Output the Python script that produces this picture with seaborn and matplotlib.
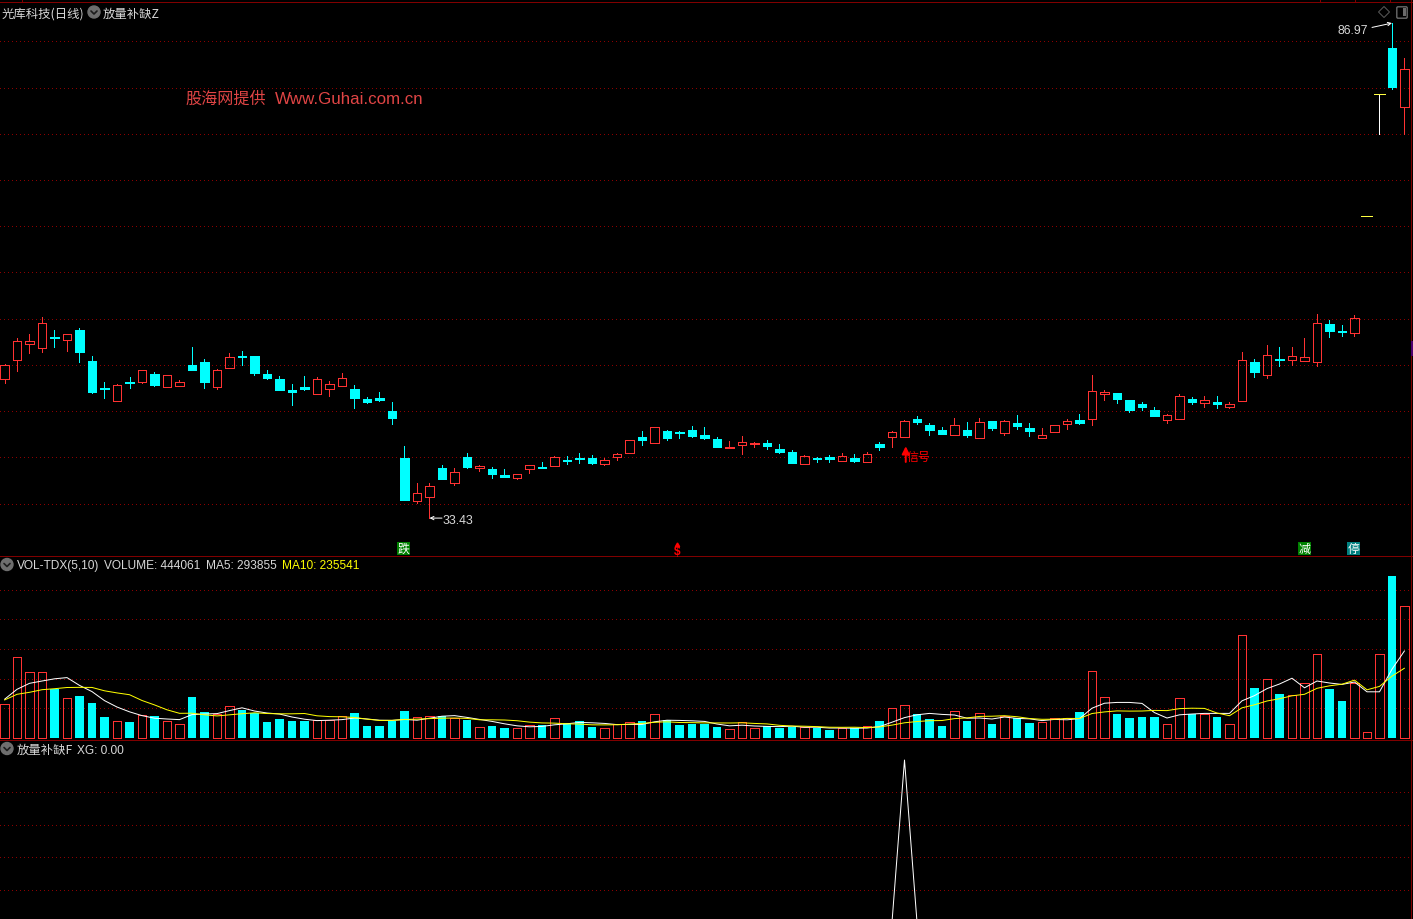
import numpy as np
import matplotlib
matplotlib.use("Agg")
import matplotlib.pyplot as plt
from matplotlib.patches import Rectangle, RegularPolygon, FancyBboxPatch
import seaborn as sns

# prices
opens = [48.47, 50.52, 52.25, 51.82, 53.01, 52.68, 53.76, 50.41, 47.49, 46.09,
         48.14, 48.14, 49.01, 47.60, 47.71, 49.98, 50.31, 47.60, 49.66, 50.95,
         50.95, 49.01, 48.47, 47.28, 47.60, 46.84, 47.38, 47.71, 47.38, 46.30,
         46.41, 45.00, 39.92, 35.27, 35.70, 38.84, 37.22, 40.03, 38.84, 38.73,
         38.08, 37.76, 38.73, 38.95, 39.06, 39.70, 39.92, 39.92, 39.27, 40.03,
         40.46, 42.19, 41.54, 42.84, 42.73, 42.95, 42.41, 41.98, 41.00, 41.33,
         41.44, 41.54, 40.89, 40.57, 39.27, 39.92, 40.03, 39.60, 39.92, 39.49,
         41.44, 42.19, 42.19, 44.14, 43.49, 42.95, 42.41, 42.95, 42.09, 43.92,
         42.63, 43.71, 43.17, 42.09, 42.73, 43.60, 44.03, 44.14, 46.84, 46.95,
         46.19, 45.76, 45.11, 44.03, 44.14, 46.30, 45.87, 45.98, 45.44, 46.09,
         50.31, 48.90, 50.63, 50.52, 50.41, 50.31, 54.41, 53.71, 53.44, 66.10,
         79.29, 84.27, 77.89]
highs = [50.09, 52.90, 53.33, 55.17, 53.76, 53.33, 53.98, 50.95, 48.14, 47.92,
         48.68, 49.44, 49.22, 48.90, 48.36, 51.93, 50.63, 49.55, 51.28, 51.49,
         50.95, 49.44, 48.79, 47.93, 48.79, 48.68, 48.25, 49.12, 47.82, 46.52,
         47.06, 45.98, 41.22, 37.22, 37.22, 39.17, 38.84, 40.46, 39.17, 38.95,
         38.73, 38.19, 39.17, 39.49, 40.14, 40.14, 40.46, 40.25, 39.92, 40.46,
         41.87, 42.84, 43.28, 42.95, 42.84, 43.39, 43.28, 42.19, 41.76, 42.30,
         41.65, 41.87, 41.44, 40.78, 40.25, 40.03, 40.25, 40.46, 40.35, 40.57,
         41.65, 42.84, 44.03, 44.46, 43.71, 43.28, 44.25, 43.82, 44.25, 43.92,
         44.03, 44.57, 43.71, 43.17, 43.49, 44.14, 44.68, 48.90, 47.28, 46.95,
         46.19, 45.98, 45.44, 44.68, 46.84, 46.52, 46.62, 46.62, 45.98, 51.39,
         50.63, 52.14, 51.93, 51.93, 52.90, 55.49, 54.85, 54.31, 55.39, 66.10,
         79.29, 86.97, 83.19]
lows = [48.04, 49.33, 51.28, 51.39, 51.93, 51.49, 50.31, 46.95, 46.41, 46.09,
        47.49, 48.04, 47.71, 47.60, 47.71, 49.44, 47.49, 47.38, 49.66, 49.98,
        48.90, 48.47, 47.28, 45.65, 47.28, 46.84, 46.62, 47.71, 45.33, 45.87,
        46.09, 43.60, 35.38, 35.06, 33.43, 37.65, 37.00, 38.84, 38.52, 37.76,
        37.87, 37.65, 38.30, 38.84, 39.06, 39.27, 39.38, 39.27, 39.17, 39.70,
        40.46, 41.33, 41.54, 41.87, 42.09, 42.19, 41.98, 41.11, 41.00, 40.35,
        41.11, 40.89, 40.46, 39.38, 39.27, 39.49, 39.49, 39.60, 39.49, 39.49,
        40.78, 41.11, 42.19, 43.60, 42.41, 42.52, 42.41, 42.19, 42.09, 42.95,
        42.41, 43.06, 42.30, 42.09, 42.73, 43.06, 43.60, 43.49, 46.19, 45.87,
        44.90, 45.11, 44.46, 43.71, 44.14, 45.76, 45.44, 45.33, 45.33, 46.09,
        48.68, 48.57, 49.87, 49.98, 50.41, 49.87, 53.01, 53.12, 53.12, 66.10,
        74.97, 79.84, 74.97]
closes = [49.98, 52.57, 52.57, 54.52, 52.90, 53.33, 51.39, 47.06, 47.38, 47.82,
          48.08, 49.44, 47.82, 48.90, 48.14, 49.44, 48.14, 49.44, 50.85, 50.90,
          49.12, 48.57, 47.28, 47.06, 47.38, 48.47, 47.93, 48.57, 46.41, 45.98,
          46.19, 44.25, 35.38, 36.14, 36.92, 37.65, 38.41, 38.95, 39.06, 38.19,
          37.87, 38.19, 39.17, 38.84, 40.03, 39.65, 39.81, 39.38, 39.70, 40.35,
          41.87, 41.87, 43.28, 42.09, 42.68, 42.30, 42.09, 41.11, 41.11, 41.65,
          41.54, 41.22, 40.57, 39.38, 40.14, 39.87, 39.81, 40.14, 39.60, 40.35,
          41.11, 42.73, 43.92, 43.82, 42.95, 42.52, 43.49, 42.41, 43.82, 43.17,
          43.92, 43.39, 42.84, 42.41, 43.49, 43.92, 43.71, 47.17, 47.06, 46.30,
          45.11, 45.44, 44.46, 44.57, 46.62, 45.98, 46.19, 45.76, 45.76, 50.52,
          49.22, 51.06, 50.52, 50.95, 50.85, 54.52, 53.66, 53.60, 55.06, 66.10,
          79.29, 80.05, 82.00]

# volume in thousands of lots, plus the two moving averages as drawn
volume_k = [115, 273, 223, 223, 165, 135, 142, 118, 71, 57,
            54, 78, 74, 57, 47, 138, 88, 81, 108, 94,
            84, 54, 64, 57, 57, 61, 61, 74, 84, 40,
            40, 57, 91, 71, 74, 74, 67, 61, 37, 40,
            34, 34, 44, 44, 67, 51, 57, 37, 34, 47,
            54, 57, 81, 61, 44, 47, 47, 37, 30, 54,
            34, 40, 34, 37, 37, 34, 27, 34, 34, 40,
            57, 101, 111, 81, 64, 40, 91, 57, 84, 47,
            74, 67, 51, 54, 67, 67, 88, 226, 138, 81,
            67, 71, 71, 47, 135, 81, 81, 71, 47, 347,
            169, 199, 148, 145, 185, 283, 165, 125, 185, 20,
            283, 546, 444.061]
ma5_k = [130.5, 164.2, 184.4, 192.2, 199.6, 203.7, 177.4, 156.5, 126.1, 104.5,
         88.3, 75.5, 66.8, 64.1, 62.0, 78.9, 80.9, 82.3, 92.4, 101.8,
         91.0, 84.3, 80.9, 70.8, 63.4, 58.7, 60.0, 62.0, 67.4, 64.1,
         60.0, 59.3, 62.7, 60.0, 66.8, 73.5, 75.5, 69.5, 62.7, 56.0,
         47.9, 41.1, 37.8, 39.1, 44.5, 47.9, 52.6, 51.3, 49.2, 45.2,
         45.9, 45.9, 54.6, 60.0, 59.3, 58.0, 56.0, 47.2, 41.1, 43.2,
         40.5, 39.1, 38.4, 39.8, 36.4, 36.4, 33.7, 33.7, 33.0, 33.7,
         38.4, 53.3, 68.8, 78.2, 83.0, 79.6, 77.6, 66.8, 67.4, 64.1,
         70.8, 66.1, 64.7, 58.7, 62.7, 61.4, 65.4, 100.5, 117.3, 120.0,
         120.0, 116.7, 85.6, 67.4, 78.2, 80.9, 83.0, 83.0, 83.0, 125.4,
         143.0, 166.6, 182.1, 201.6, 169.3, 192.2, 185.5, 180.7, 188.8, 155.8,
         155.8, 232.0, 293.855]
ma10_k = [128.1, 147.4, 154.1, 162.9, 166.2, 170.3, 170.8, 170.5, 159.2, 152.1,
          146.0, 126.5, 111.6, 95.1, 83.3, 83.6, 78.2, 74.5, 78.2, 81.9,
          85.0, 82.6, 81.6, 81.6, 82.6, 74.9, 72.2, 71.5, 69.1, 63.7,
          59.3, 59.7, 62.4, 63.7, 65.4, 66.8, 67.4, 66.1, 61.4, 61.4,
          60.7, 58.3, 53.6, 50.9, 50.2, 47.9, 46.9, 44.5, 44.2, 44.8,
          46.9, 49.2, 52.9, 54.6, 52.3, 51.9, 50.9, 50.9, 50.6, 51.3,
          49.2, 47.5, 42.8, 40.5, 39.8, 38.4, 36.4, 36.1, 36.4, 35.1,
          37.4, 43.5, 51.3, 55.6, 58.3, 59.0, 65.4, 67.8, 72.8, 73.5,
          75.2, 71.8, 65.8, 63.1, 63.4, 66.1, 65.8, 82.6, 88.0, 91.4,
          90.7, 91.0, 93.1, 92.4, 99.1, 100.5, 99.8, 84.3, 75.2, 101.8,
          112.0, 124.8, 132.5, 142.3, 147.4, 167.6, 176.0, 181.4, 195.2, 162.5,
          174.0, 208.7, 235.541]

# XG signal: one day at 1, the rest 0
xg = [0.0] * 72 + [1.0] + [0.0] * 40

price_grid = [35, 40, 45, 50, 55, 60, 65, 70, 75, 80, 85]
volume_grid = [100, 200, 300, 400, 500]
xg_grid = [0.2, 0.4, 0.6, 0.8]

W, H = 1413, 920
RED = "#ff3232"
CYAN = "#00ffff"
GRID = "#800000"
DOT = "#8c0000"
PX = 0.72  # one pixel at dpi 100

sns.set_style("dark", {"axes.facecolor": "black", "figure.facecolor": "black"})
plt.rcParams["font.family"] = ["Liberation Sans", "Noto Sans CJK SC", "DejaVu Sans"]
CJK = ["Noto Sans CJK SC", "DejaVu Sans"]

fig = plt.figure(figsize=(W / 100, H / 100), dpi=100, facecolor="black")


def panel(top, bottom):
    ax = fig.add_axes([0, 1 - bottom / H, 1411.5 / W, (bottom - top) / H])
    ax.set_facecolor("black")
    ax.grid(False)
    ax.set_xticks([])
    ax.set_yticks([])
    for side in ["left", "bottom", "top", "right"]:
        ax.spines[side].set_visible(False)
    return ax


def dotted(ax, levels):
    for level in levels:
        ax.axhline(level, color=DOT, lw=PX, ls=(0, (0.9, 3.1)), zorder=0, antialiased=False,
                   dash_capstyle="butt")


def label(x, y, s, color="#d8d8d8", size=8.6, family=None, **kw):
    kw.setdefault("ha", "left")
    kw.setdefault("va", "center")
    fig.text(x / W, 1 - y / H, s, color=color, fontsize=size, family=family, zorder=20, **kw)


def chevron(x, y):
    # little grey round button beside the panel titles
    fig.add_artist(plt.Circle((x, H - y), 6, color="#6e6e6e", transform=None, zorder=15))
    fig.add_artist(plt.Line2D([x - 3, x, x + 3], [H - y + 1, H - y - 2, H - y + 1],
                              color="#1c1c1c", lw=1.2, transform=None, zorder=16))


idx = np.arange(len(opens))
o, h, l, c = map(np.array, (opens, highs, lows, closes))
vol = np.array(volume_k)
up = c >= o
limit_day = (h == o) & (c == o)  # no real body, drawn as a yellow dash
limit_day[110] = True

# ---- candles ----
ax1 = panel(3, 557)
dotted(ax1, price_grid)

body_top = np.maximum(o, c)
body_bot = np.minimum(o, c)
for mask, col in [(up, RED), (~up, CYAN)]:
    m = mask & ~limit_day
    ax1.vlines(idx[m], body_top[m], h[m], color=col, lw=PX, zorder=2, antialiased=False)
    ax1.vlines(idx[m], l[m], body_bot[m], color=col, lw=PX, zorder=2, antialiased=False)
ax1.bar(idx[up & ~limit_day], (c - o)[up & ~limit_day], bottom=o[up & ~limit_day],
        width=0.68, facecolor="none", edgecolor=RED, lw=PX, zorder=3, antialiased=False)
ax1.bar(idx[~up], (o - c)[~up], bottom=c[~up], width=0.68,
        facecolor=CYAN, edgecolor=CYAN, lw=PX, zorder=3, antialiased=False)
ax1.vlines(idx[limit_day], l[limit_day], h[limit_day], color="white", lw=PX, zorder=2,
           antialiased=False)
ax1.hlines(c[limit_day], idx[limit_day] - 0.44, idx[limit_day] + 0.44,
           color="#ffff40", lw=PX, zorder=3, antialiased=False)

ax1.set_xlim(-0.36, 112.56)
ax1.set_ylim(29.33, 89.25)

# low / high markers
ax1.annotate("", xy=(34, lows[34]), xytext=(35, lows[34]),
             arrowprops=dict(arrowstyle="->", color="white", lw=PX, shrinkA=0, shrinkB=0,
                             mutation_scale=6))
ax1.annotate("", xy=(111, highs[111]), xytext=(109.4, 86.5),
             arrowprops=dict(arrowstyle="->", color="white", lw=PX, shrinkA=0, shrinkB=0,
                             mutation_scale=6))
label(443, 521, "33.43", size=8.9)
label(1337.5, 30.5, "86.97", size=8.8)

# signal arrow under the breakout candle
ax1.annotate("", xy=(72.1, 41.2), xytext=(72.1, 39.5),
             arrowprops=dict(arrowstyle="-|>", color="#ff0000", lw=1.4, shrinkA=0, shrinkB=0,
                             mutation_scale=11))
label(907, 457.5, "信号", color="#ff0000", size=8.6, family=CJK)

# ---- volume ----
ax2 = panel(557, 741)
dotted(ax2, volume_grid)
sns.barplot(x=idx[up], y=vol[up], native_scale=True, color=RED, saturation=1, width=0.7,
            fill=False, linewidth=PX, errorbar=None, ax=ax2, zorder=3, antialiased=False)
sns.barplot(x=idx[~up], y=vol[~up], native_scale=True, color=CYAN, saturation=1, width=0.7,
            linewidth=0, errorbar=None, ax=ax2, zorder=3, antialiased=False)
sns.lineplot(x=idx, y=ma5_k, color="white", lw=PX, estimator=None, ax=ax2, zorder=5)
sns.lineplot(x=idx, y=ma10_k, color="#ffff00", lw=PX, estimator=None, ax=ax2, zorder=6)
ax2.set_xlim(-0.36, 112.56)
ax2.set_ylim(-6.7, 613.7)
ax2.set_xlabel("")
ax2.set_ylabel("")
ax2.set_xticks([])
ax2.set_yticks([])

# ---- XG panel ----
ax3 = panel(741, 920)
dotted(ax3, xg_grid)
sns.lineplot(x=idx, y=xg, color="white", lw=PX, estimator=None, ax=ax3, zorder=4)
ax3.set_xlim(-0.36, 112.56)
ax3.set_ylim(0.0186, 1.1237)
ax3.set_xlabel("")
ax3.set_ylabel("")
ax3.set_xticks([])
ax3.set_yticks([])
for ax in (ax1, ax2, ax3):
    ax.patch.set_alpha(0)

# ---- panel separators, top edge ticks and right edge bits ----
for row in [3, 557, 741]:
    fig.add_artist(Rectangle((0, H - row - 1), W, 1, color=GRID, lw=0, transform=None, zorder=10))
fig.add_artist(Rectangle((1411, 0), 1, H, color=GRID, lw=0, transform=None, zorder=10))
for tx in [22, 1320, 1355, 1390]:
    fig.add_artist(Rectangle((tx, H - 3), 1, 3, color=GRID, lw=0, transform=None, zorder=10))
fig.add_artist(Rectangle((1411, H - 357), 2, 15, color="#50006e", lw=0, transform=None, zorder=12))

# ---- titles ----
label(2, 14, "光库科技(日线)", size=8.9, family=CJK)
chevron(94, 13)
label(103, 14, "放量补缺Z", size=8.9, family=CJK)
label(185, 99, "股海网提供", color="#e04545", size=11.6, family=CJK)
label(275, 99, "Www.Guhai.com.cn", color="#e04545", size=12.2)

chevron(7, 565.5)
label(17, 566.5, "VOL-TDX(5,10)")
label(104, 566.5, "VOLUME: 444061")
label(206, 566.5, "MA5: 293855")
label(282, 566.5, "MA10: 235541", color="#ffff00")

chevron(7, 749.5)
label(17, 750.5, "放量补缺F", size=8.9, family=CJK)
label(77, 750.5, "XG: 0.00")

# state flags along the bottom of the candle panel
for x, s, bg in [(403.5, "跌", "#008000"), (1304, "减", "#008000"), (1353.5, "停", "#008080")]:
    fig.add_artist(Rectangle((x - 6.5, H - 556), 13, 13.5, color=bg, lw=0, transform=None, zorder=18))
    label(x, 549.5, s, color="white", size=8.6, family=CJK, ha="center")
fig.add_artist(RegularPolygon((677.5, H - 546.5), 3, radius=2.5, color="#ff0000", transform=None, zorder=18))
label(677.5, 552.5, "$", color="#ff0000", size=8.6, ha="center", fontweight="bold")

# top right toolbar icons
fig.add_artist(RegularPolygon((1384, H - 13), 4, radius=5.5, fill=False, edgecolor="#5a5a5a",
                              lw=PX, transform=None, zorder=18))
fig.add_artist(FancyBboxPatch((1398, H - 18), 8, 9, boxstyle="round,pad=1.2", fill=False,
                              edgecolor="#6a6a6a", lw=1, transform=None, zorder=18))
fig.add_artist(Rectangle((1403, H - 17), 3, 8, color="#6a6a6a", lw=0, transform=None, zorder=18))

fig.savefig("out.png", dpi=100, facecolor="black")
plt.close(fig)
